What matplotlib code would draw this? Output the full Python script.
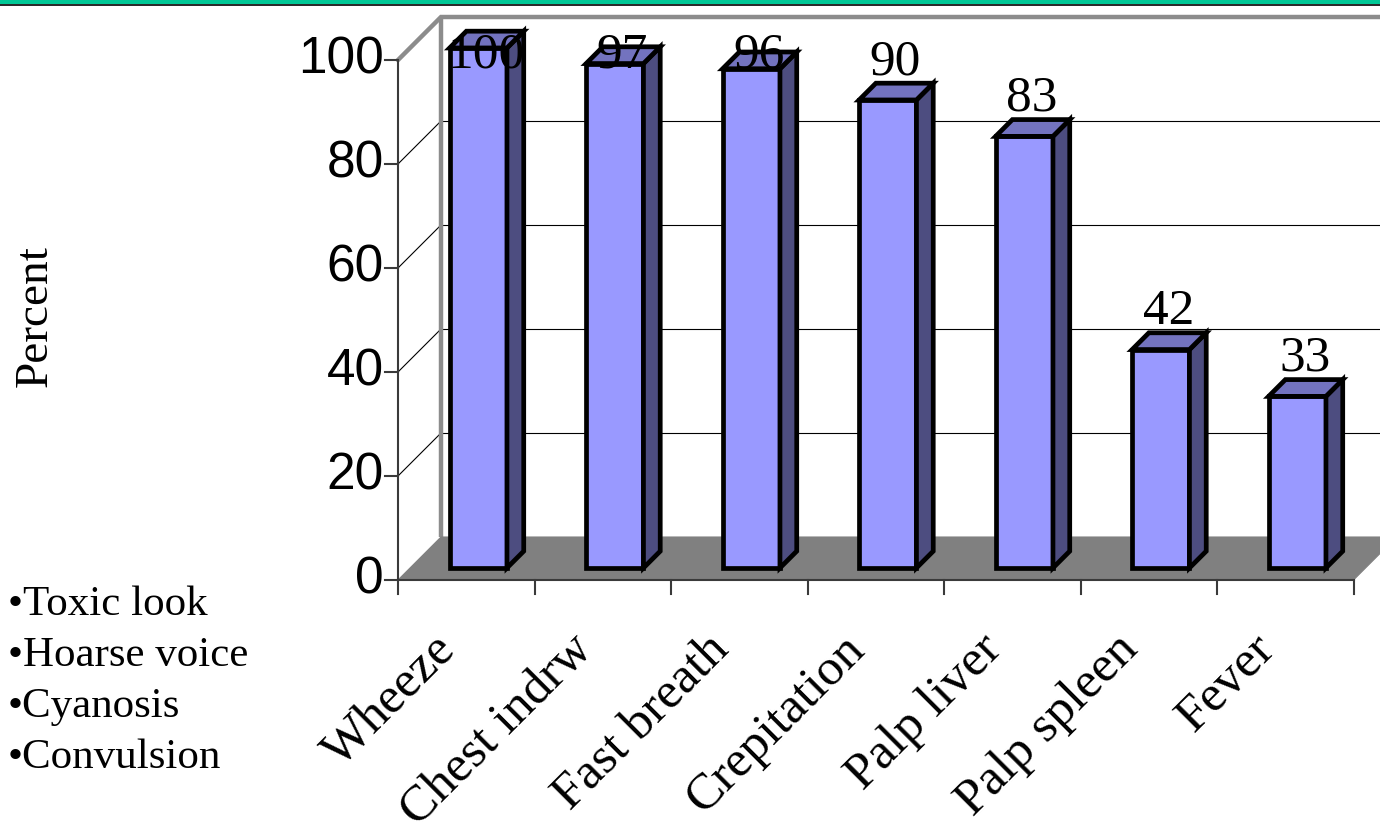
import matplotlib
matplotlib.use("Agg")
import matplotlib.pyplot as plt
from matplotlib.patches import Polygon, Rectangle

# ---- data -------------------------------------------------------------
categories = ["Wheeze", "Chest indrw", "Fast breath", "Crepitation",
              "Palp liver", "Palp spleen", "Fever"]
percent = [100, 97, 96, 90, 83, 42, 33]
value_ticks = [0, 20, 40, 60, 80, 100]
side_notes = ["•Toxic look", "•Hoarse voice", "•Cyanosis", "•Convulsion"]
y_title = "Percent"

# ---- layout (pixels) --------------------------------------------------
W, H = 1380, 833
ORIGIN_X, ORIGIN_Y = 398, 580      # front-left corner of the floor
CAT_PX = 136.5                      # width of one category
PCT_PX = 5.2                        # height of one percent
DEPTH_PX = 43                       # oblique depth offset (right and up)

SERIF = ["Liberation Serif", "DejaVu Serif"]
SANS = ["Liberation Sans", "DejaVu Sans"]

fig = plt.figure(figsize=(W / 100, H / 100), dpi=100)
ax = fig.add_axes([0, 0, 1, 1])
ax.set_xlim(-ORIGIN_X / CAT_PX, (W - ORIGIN_X) / CAT_PX)
ax.set_ylim(-(H - ORIGIN_Y) / PCT_PX, ORIGIN_Y / PCT_PX)
ax.axis("off")

DX = DEPTH_PX / CAT_PX
DY = DEPTH_PX / PCT_PX
n = len(categories)
vmax = value_ticks[-1]


def px_x(p):
    return p / CAT_PX


def px_y(p):
    return p / PCT_PX


def proj(x, y, z):
    """Oblique projection of (category, value, depth) to axes data."""
    return (x + z * DX, y + z * DY)


# ---- header band ------------------------------------------------------
fig.patches.append(Rectangle((0, 1 - 4.5 / H), 1, 4.5 / H, transform=fig.transFigure,
                             facecolor="#00C896", edgecolor="none", zorder=0))
fig.patches.append(Rectangle((0, 1 - 6 / H), 1, 1.8 / H, transform=fig.transFigure,
                             facecolor="#2b2b2b", edgecolor="none", zorder=0))

# ---- walls and floor --------------------------------------------------
wall_grey = "#8c8c8c"
ax.add_patch(Polygon([proj(0, 0, 0), proj(0, 0, 1), proj(n, 0, 1), proj(n, 0, 0)],
                     closed=True, facecolor="#808080", edgecolor="#808080",
                     lw=0.8, zorder=2))

for t in value_ticks[1:-1]:
    ax.plot(*zip(proj(0, t, 0), proj(0, t, 1)), color="black", lw=0.8, zorder=1)
    ax.plot(*zip(proj(0, t, 1), proj(n, t, 1)), color="black", lw=0.8, zorder=1)

ax.plot(*zip(proj(0, 0, 1), proj(0, vmax, 1)), color=wall_grey, lw=3.2,
        solid_capstyle="butt", zorder=1.5)
ax.plot(*zip(proj(0, vmax, 0), proj(0, vmax, 1), proj(n, vmax, 1)),
        color=wall_grey, lw=3.2, solid_joinstyle="miter", zorder=1.5)

# ---- axes lines, ticks and tick labels --------------------------------
axis_col = "#3a3a3a"
ax.plot([0, 0], [0, vmax], color=axis_col, lw=1.5, zorder=3)
ax.plot([0, n], [0, 0], color=axis_col, lw=1.5, zorder=3)
for t in value_ticks:
    ax.plot([-px_x(13), 0], [t, t], color=axis_col, lw=1.5, zorder=3)
    ax.text(-px_x(14), t, str(t), ha="right", va="center",
            fontsize=37, family=SANS, color="black")
for i in range(n + 1):
    ax.plot([i, i], [0, -px_y(14)], color=axis_col, lw=1.5, zorder=3)

for i, name in enumerate(categories):
    ax.text(i + 0.5 - px_x(34), -px_y(46), name, rotation=45,
            rotation_mode="anchor", ha="right", va="top",
            fontsize=37, family=SERIF, color="black")

# ---- 3-D bars ---------------------------------------------------------
bw = 0.42
z0, z1 = 0.28, 0.67
front_c, top_c, side_c = "#9999FF", "#7373BF", "#4D4D80"
label_cap = vmax - px_y(8)
for i, v in enumerate(percent):
    x0, x1 = i + 0.5 - bw / 2, i + 0.5 + bw / 2
    faces = [
        ([proj(x0, 0, z0), proj(x1, 0, z0), proj(x1, v, z0), proj(x0, v, z0)], front_c),
        ([proj(x1, 0, z0), proj(x1, 0, z1), proj(x1, v, z1), proj(x1, v, z0)], side_c),
        ([proj(x0, v, z0), proj(x1, v, z0), proj(x1, v, z1), proj(x0, v, z1)], top_c),
    ]
    for pts, col in faces:
        ax.add_patch(Polygon(pts, closed=True, facecolor=col, edgecolor="black",
                             lw=3.4, joinstyle="miter", zorder=5))
    lx, ly = proj(i + 0.5, v, z1)
    ly = min(ly + px_y(9), label_cap)
    ax.text(lx - px_x(9), ly, str(v), ha="center", va="baseline",
            fontsize=37, family=SERIF, color="black", zorder=6)

# ---- side texts -------------------------------------------------------
fig.text(35 / W, 1 - 316 / H, y_title, rotation=90, ha="center", va="center",
         fontsize=34, family=SERIF, color="black")
for k, note in enumerate(side_notes):
    fig.text(8 / W, 1 - (615 + 51 * k) / H, note, ha="left", va="baseline",
             fontsize=31, family=SERIF, color="black")

fig.savefig("out.png", dpi=100, facecolor="white")
